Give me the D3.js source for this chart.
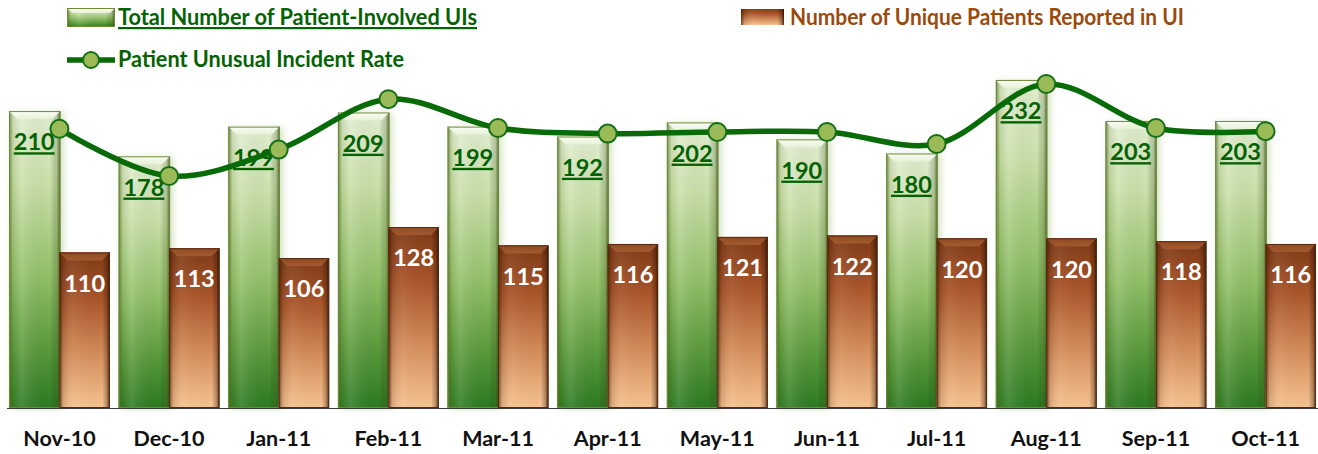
<!DOCTYPE html>
<html>
<head>
<meta charset="utf-8">
<script src="https://cdn.jsdelivr.net/npm/d3@7"></script>
<style>
  body { margin: 0; background: #fff; }
  svg { display: block; font-family: Lato, "Open Sans", sans-serif; }
</style>
</head>
<body>
<svg width="1318" height="454"></svg>
<script>
var months = ["Nov-10", "Dec-10", "Jan-11", "Feb-11", "Mar-11", "Apr-11",
              "May-11", "Jun-11", "Jul-11", "Aug-11", "Sep-11", "Oct-11"];
var totalUIs = [210, 178, 199, 209, 199, 192, 202, 190, 180, 232, 203, 203];
var uniquePatients = [110, 113, 106, 128, 115, 116, 121, 122, 120, 120, 118, 116];
var incidentRate = [5.04, 4.45, 4.78, 5.41, 5.05, 4.98, 5.00, 5.00, 4.85, 5.60, 5.05, 5.01];
var seriesNames = ["Total Number of Patient-Involved UIs",
                   "Number of Unique Patients Reported in UI",
                   "Patient Unusual Incident Rate"];

var svg = d3.select("svg"),
    width = +svg.attr("width"),
    height = +svg.attr("height");

var x = d3.scaleBand()
    .domain(months)
    .range([4.6, 1320.4])
    .paddingInner(0.08)
    .paddingOuter(0.04);

var xs = d3.scaleBand()
    .domain(["total", "unique"])
    .range([0, x.bandwidth()]);

var y = d3.scaleLinear()
    .domain([0, 250])
    .range([408, 54.5]);

// rate has no axis of its own in the picture
var yRate = d3.scaleLinear()
    .domain([4, 6])
    .range([212, 52]);

var defs = svg.append("defs");

function vGrad(id, stops) {
  var g = defs.append("linearGradient").attr("id", id)
      .attr("x1", 0).attr("y1", 0).attr("x2", 0).attr("y2", 1);
  stops.forEach(s => g.append("stop").attr("offset", s[0]).attr("stop-color", s[1]).attr("stop-opacity", s[2] == null ? 1 : s[2]));
}
function hGrad(id, stops) {
  var g = defs.append("linearGradient").attr("id", id)
      .attr("x1", 0).attr("y1", 0).attr("x2", 1).attr("y2", 0);
  stops.forEach(s => g.append("stop").attr("offset", s[0]).attr("stop-color", s[1]).attr("stop-opacity", s[2] == null ? 1 : s[2]));
}

vGrad("greenFill", [[0, "#e2eed2"], [0.25, "#c9e0a8"], [0.55, "#94c16a"], [0.8, "#5a9a3c"], [1, "#2c7a22"]]);
vGrad("brownFill", [[0, "#7e3a16"], [0.3, "#a9552a"], [0.65, "#d48c5a"], [1, "#f6c391"]]);
hGrad("greenEdge", [[0, "#4d6a1e", 0.75], [0.08, "#4d6a1e", 0.15], [0.25, "#ffffff", 0.12], [0.8, "#000", 0], [0.93, "#3b5010", 0.25], [1, "#2e3d0c", 0.8]]);
hGrad("brownEdge", [[0, "#3a1a06", 0.7], [0.08, "#3a1a06", 0.15], [0.3, "#ffffff", 0.05], [0.85, "#000", 0], [0.94, "#2a1002", 0.3], [1, "#1e0b00", 0.85]]);
vGrad("greenTop", [[0, "#fbfdf5"], [1, "#e7f1d6"]]);
vGrad("brownTop", [[0, "#8f4a22"], [1, "#a45a31"]]);

var glow = defs.append("filter").attr("id", "glow")
    .attr("x", "-20%").attr("y", "-5%").attr("width", "150%").attr("height", "110%");
glow.append("feGaussianBlur").attr("in", "SourceAlpha").attr("stdDeviation", 3).attr("result", "b");
glow.append("feOffset").attr("in", "b").attr("dx", 3).attr("dy", 1).attr("result", "o");
glow.append("feFlood").attr("flood-color", "#9fc27a").attr("flood-opacity", 0.45);
glow.append("feComposite").attr("in2", "o").attr("operator", "in").attr("result", "s");
var mg = glow.append("feMerge");
mg.append("feMergeNode").attr("in", "s");
mg.append("feMergeNode").attr("in", "SourceGraphic");

function drawBar(g, x0, w, v, kind) {
  var top = y(v), h = y(0) - top, bev = 8;
  var b = g.append("g").attr("filter", kind == "total" ? "url(#glow)" : null);
  b.append("rect").attr("x", x0).attr("y", top).attr("width", w).attr("height", h)
      .attr("fill", kind == "total" ? "url(#greenFill)" : "url(#brownFill)");
  b.append("rect").attr("x", x0).attr("y", top).attr("width", w).attr("height", h)
      .attr("fill", kind == "total" ? "url(#greenEdge)" : "url(#brownEdge)");
  b.append("path")
      .attr("d", `M${x0},${top}L${x0 + w},${top}L${x0 + w - bev},${top + bev}L${x0 + bev},${top + bev}Z`)
      .attr("fill", kind == "total" ? "url(#greenTop)" : "url(#brownTop)");
  b.append("rect").attr("x", x0 + 0.5).attr("y", top + 0.5).attr("width", w - 1).attr("height", h - 1)
      .attr("fill", "none")
      .attr("stroke", kind == "total" ? "#6f8a3a" : "#5a2a10")
      .attr("stroke-width", 1);
}

var bars = svg.append("g");
months.forEach((m, i) => {
  drawBar(bars, x(m) + xs("total"), xs.bandwidth() + 1, totalUIs[i], "total");
  drawBar(bars, x(m) + xs("unique"), xs.bandwidth(), uniquePatients[i], "unique");
});

// baseline
svg.append("line")
    .attr("x1", 7).attr("x2", width)
    .attr("y1", y(0) + 0.5).attr("y2", y(0) + 0.5)
    .attr("stroke", "#3a3a3a").attr("stroke-width", 1.2);

// value labels
svg.append("g").selectAll("text").data(months).join("text")
    .attr("x", m => x(m) + xs("total") + xs.bandwidth() / 2)
    .attr("y", (m, i) => y(totalUIs[i]) + 31)
    .attr("dy", "0.35em")
    .attr("text-anchor", "middle")
    .attr("font-size", 23.5).attr("font-weight", "bold")
    .attr("fill", "#046204")
    .attr("text-decoration", "underline")
    .text((m, i) => totalUIs[i]);

svg.append("g").selectAll("text").data(months).join("text")
    .attr("x", m => x(m) + xs("unique") + xs.bandwidth() / 2)
    .attr("y", (m, i) => y(uniquePatients[i]) + 31)
    .attr("dy", "0.35em")
    .attr("text-anchor", "middle")
    .attr("font-size", 23.5).attr("font-weight", "bold")
    .attr("fill", "#ffffff")
    .text((m, i) => uniquePatients[i]);

// rate line
var line = d3.line()
    .x(d => x(d[0]) + xs("unique"))
    .y(d => yRate(d[1]))
    .curve(d3.curveCatmullRom.alpha(0.5));

var ratePts = months.map((m, i) => [m, incidentRate[i]]);

svg.append("path")
    .attr("d", line(ratePts))
    .attr("fill", "none")
    .attr("stroke", "#086b08")
    .attr("stroke-width", 5.5);

svg.append("g").selectAll("circle").data(ratePts).join("circle")
    .attr("cx", d => x(d[0]) + xs("unique"))
    .attr("cy", d => yRate(d[1]))
    .attr("r", 9)
    .attr("fill", "#9bbb59")
    .attr("stroke", "#147014")
    .attr("stroke-width", 2);

// x axis
var xAxis = d3.axisBottom(x).tickSize(0).tickPadding(23);
var gX = svg.append("g")
    .attr("transform", `translate(0,${y(0)})`)
    .call(xAxis);
gX.select(".domain").remove();
gX.selectAll("text")
    .attr("font-family", "Lato, 'Open Sans', sans-serif")
    .attr("font-size", 21.5).attr("font-weight", "bold").attr("fill", "#111");

// legend
var leg = svg.append("g");
leg.append("rect").attr("x", 67).attr("y", 8).attr("width", 48).attr("height", 19).attr("fill", "url(#greenFill)");
leg.append("rect").attr("x", 67).attr("y", 8).attr("width", 48).attr("height", 19).attr("fill", "url(#greenEdge)");
leg.append("path").attr("d", "M67,8L115,8L110,13L72,13Z").attr("fill", "url(#greenTop)");
leg.append("rect").attr("x", 67.5).attr("y", 8.5).attr("width", 47).attr("height", 18)
    .attr("fill", "none").attr("stroke", "#6f8a3a");

leg.append("rect").attr("x", 741).attr("y", 9).attr("width", 43).attr("height", 16).attr("fill", "url(#brownFill)");
leg.append("rect").attr("x", 741).attr("y", 9).attr("width", 43).attr("height", 16).attr("fill", "url(#brownEdge)");

leg.append("line").attr("x1", 67).attr("x2", 115).attr("y1", 60).attr("y2", 60)
    .attr("stroke", "#086b08").attr("stroke-width", 5.5);
leg.append("circle").attr("cx", 91).attr("cy", 60).attr("r", 8)
    .attr("fill", "#9bbb59").attr("stroke", "#147014").attr("stroke-width", 2);

// Calibri-like proportions: taller glyphs squeezed to the measured width
function legText(x0, y0, txt, col, w, ul) {
  return leg.append("text").attr("x", x0).attr("y", y0)
      .attr("font-size", 22).attr("font-weight", "bold").attr("fill", col)
      .attr("text-decoration", ul ? "underline" : null)
      .attr("textLength", w).attr("lengthAdjust", "spacingAndGlyphs")
      .text(txt);
}
legText(118, 25, seriesNames[0], "#046204", 359, true);
legText(790, 25, seriesNames[1], "#9a4a0c", 394, false);
legText(118, 67, seriesNames[2], "#046204", 286, false);
</script>
</body>
</html>
